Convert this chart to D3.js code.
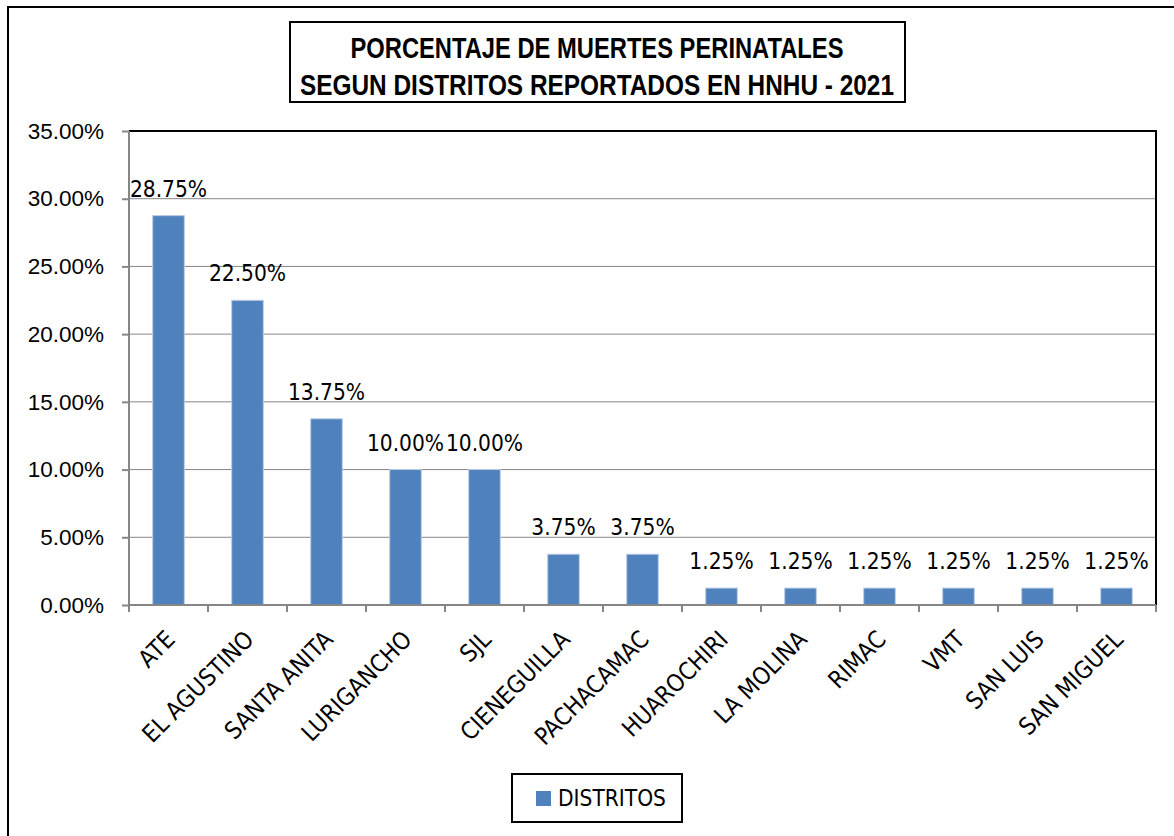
<!DOCTYPE html>
<html lang="es">
<head>
<meta charset="utf-8">
<style>
  body { margin: 0; background: white; }
  svg { display: block; background: white; font-family: "DejaVu Sans Condensed", "DejaVu Sans", sans-serif; font-stretch: condensed; }
  .grid line { stroke: #868686; stroke-width: 1px; }
  .axis path, .axis line { stroke: #868686; stroke-width: 2px; }
  .axis text { font-size: 22.5px; fill: #000; }
  .axis .xlab { font-size: 24px; }
  .bar { fill: #4f81bd; stroke: #b9cde5; stroke-width: 1px; }
  .lbl { font-size: 22.5px; fill: #000; text-anchor: middle; }
</style>
<script src="https://d3js.org/d3.v7.min.js"></script>
</head>
<body>
<script>
// datos
var distritos = ["ATE", "EL AGUSTINO", "SANTA ANITA", "LURIGANCHO", "SJL", "CIENEGUILLA",
                 "PACHACAMAC", "HUAROCHIRI", "LA MOLINA", "RIMAC", "VMT", "SAN LUIS", "SAN MIGUEL"];
var porcentajes = [28.75, 22.50, 13.75, 10.00, 10.00, 3.75, 3.75, 1.25, 1.25, 1.25, 1.25, 1.25, 1.25];
var yTicks = [0, 5, 10, 15, 20, 25, 30, 35];
var titulo = ["PORCENTAJE DE MUERTES PERINATALES", "SEGUN DISTRITOS REPORTADOS EN HNHU - 2021"];
var serie = "DISTRITOS";

var width = 1174, height = 836;
var margin = {left: 129, right: 18, top: 131, bottom: 231};

var svg = d3.select("body").append("svg")
    .attr("width", width)
    .attr("height", height);

// marco exterior
svg.append("rect")
    .attr("x", 8).attr("y", 7)
    .attr("width", width + 20).attr("height", height + 20)
    .attr("fill", "none").attr("stroke", "#000").attr("stroke-width", 2);

var x = d3.scaleBand()
    .domain(distritos)
    .range([margin.left, width - margin.right])
    .paddingInner(0.6).paddingOuter(0.3);

var xb = d3.scaleBand().domain(distritos).range([margin.left, width - margin.right]);

var y = d3.scaleLinear()
    .domain([0, 35])
    .range([height - margin.bottom, margin.top]);

// lineas de cuadricula
svg.append("g").attr("class", "grid")
    .selectAll("line")
    .data(yTicks)
    .enter().append("line")
    .attr("x1", margin.left).attr("x2", width - margin.right)
    .attr("y1", function(d) { return y(d); })
    .attr("y2", function(d) { return y(d); });

// borde del area de trazado (arriba y derecha)
svg.append("path")
    .attr("d", "M" + margin.left + "," + y(35) + "H" + (width - margin.right) + "V" + y(0))
    .attr("fill", "none").attr("stroke", "#000").attr("stroke-width", 2);

svg.selectAll(".bar")
    .data(porcentajes)
    .enter().append("rect")
    .attr("class", "bar")
    .attr("x", function(d, i) { return x(distritos[i]); })
    .attr("width", x.bandwidth())
    .attr("y", function(d) { return y(d); })
    .attr("height", function(d) { return y(0) - y(d); });

svg.selectAll(".lbl")
    .data(porcentajes)
    .enter().append("text")
    .attr("class", "lbl")
    .attr("x", function(d, i) { return x(distritos[i]) + x.bandwidth() / 2; })
    .attr("y", function(d) { return y(d) - 19; })
    .text(function(d) { return d.toFixed(2) + "%"; });

// eje Y
var yAxis = svg.append("g").attr("class", "axis")
    .attr("transform", "translate(" + margin.left + ",0)")
    .call(d3.axisLeft(y).tickValues(yTicks).tickSize(7).tickPadding(18)
        .tickFormat(function(d) { return d.toFixed(2) + "%"; }));
yAxis.select(".domain").attr("d", "M0," + y(0) + "V" + y(35));

// eje X con marcas entre categorias
var xAxis = svg.append("g").attr("class", "axis")
    .attr("transform", "translate(0," + y(0) + ")");
xAxis.append("line")
    .attr("x1", margin.left).attr("x2", width - margin.right);
xAxis.selectAll(".tk")
    .data(distritos.concat(["_fin"]))
    .enter().append("line")
    .attr("x1", function(d, i) { return margin.left + i * xb.step(); })
    .attr("x2", function(d, i) { return margin.left + i * xb.step(); })
    .attr("y1", 0).attr("y2", 7);
xAxis.selectAll(".xlab")
    .data(distritos)
    .enter().append("text")
    .attr("class", "xlab")
    .attr("text-anchor", "end")
    .attr("transform", function(d) {
        return "translate(" + (xb(d) + xb.bandwidth() / 2 - 4) + ",24) rotate(-45)";
    })
    .attr("dy", "0.7em")
    .text(function(d) { return d; });

// titulo
svg.append("rect")
    .attr("x", 290).attr("y", 22).attr("width", 615).attr("height", 80)
    .attr("fill", "white").attr("stroke", "#000").attr("stroke-width", 2);
svg.selectAll(".tit")
    .data(titulo)
    .enter().append("text")
    .attr("x", 597)
    .attr("y", function(d, i) { return 58 + i * 37; })
    .attr("text-anchor", "middle")
    .style("font-family", "'Liberation Sans', Arial, sans-serif")
    .style("font-stretch", "normal")
    .style("font-weight", "bold")
    .style("font-size", "29px")
    .attr("textLength", function(d, i) { return i == 0 ? 493 : 594; })
    .attr("lengthAdjust", "spacingAndGlyphs")
    .text(function(d) { return d; });

// leyenda
var leg = svg.append("g");
leg.append("rect")
    .attr("x", 512).attr("y", 774).attr("width", 170).attr("height", 48)
    .attr("fill", "white").attr("stroke", "#000").attr("stroke-width", 2);
leg.append("rect")
    .attr("x", 536).attr("y", 791).attr("width", 15).attr("height", 15)
    .attr("fill", "#4f81bd");
leg.append("text")
    .attr("x", 558).attr("y", 806)
    .style("font-size", "22.5px")
    .text(serie);
</script>
</body>
</html>
